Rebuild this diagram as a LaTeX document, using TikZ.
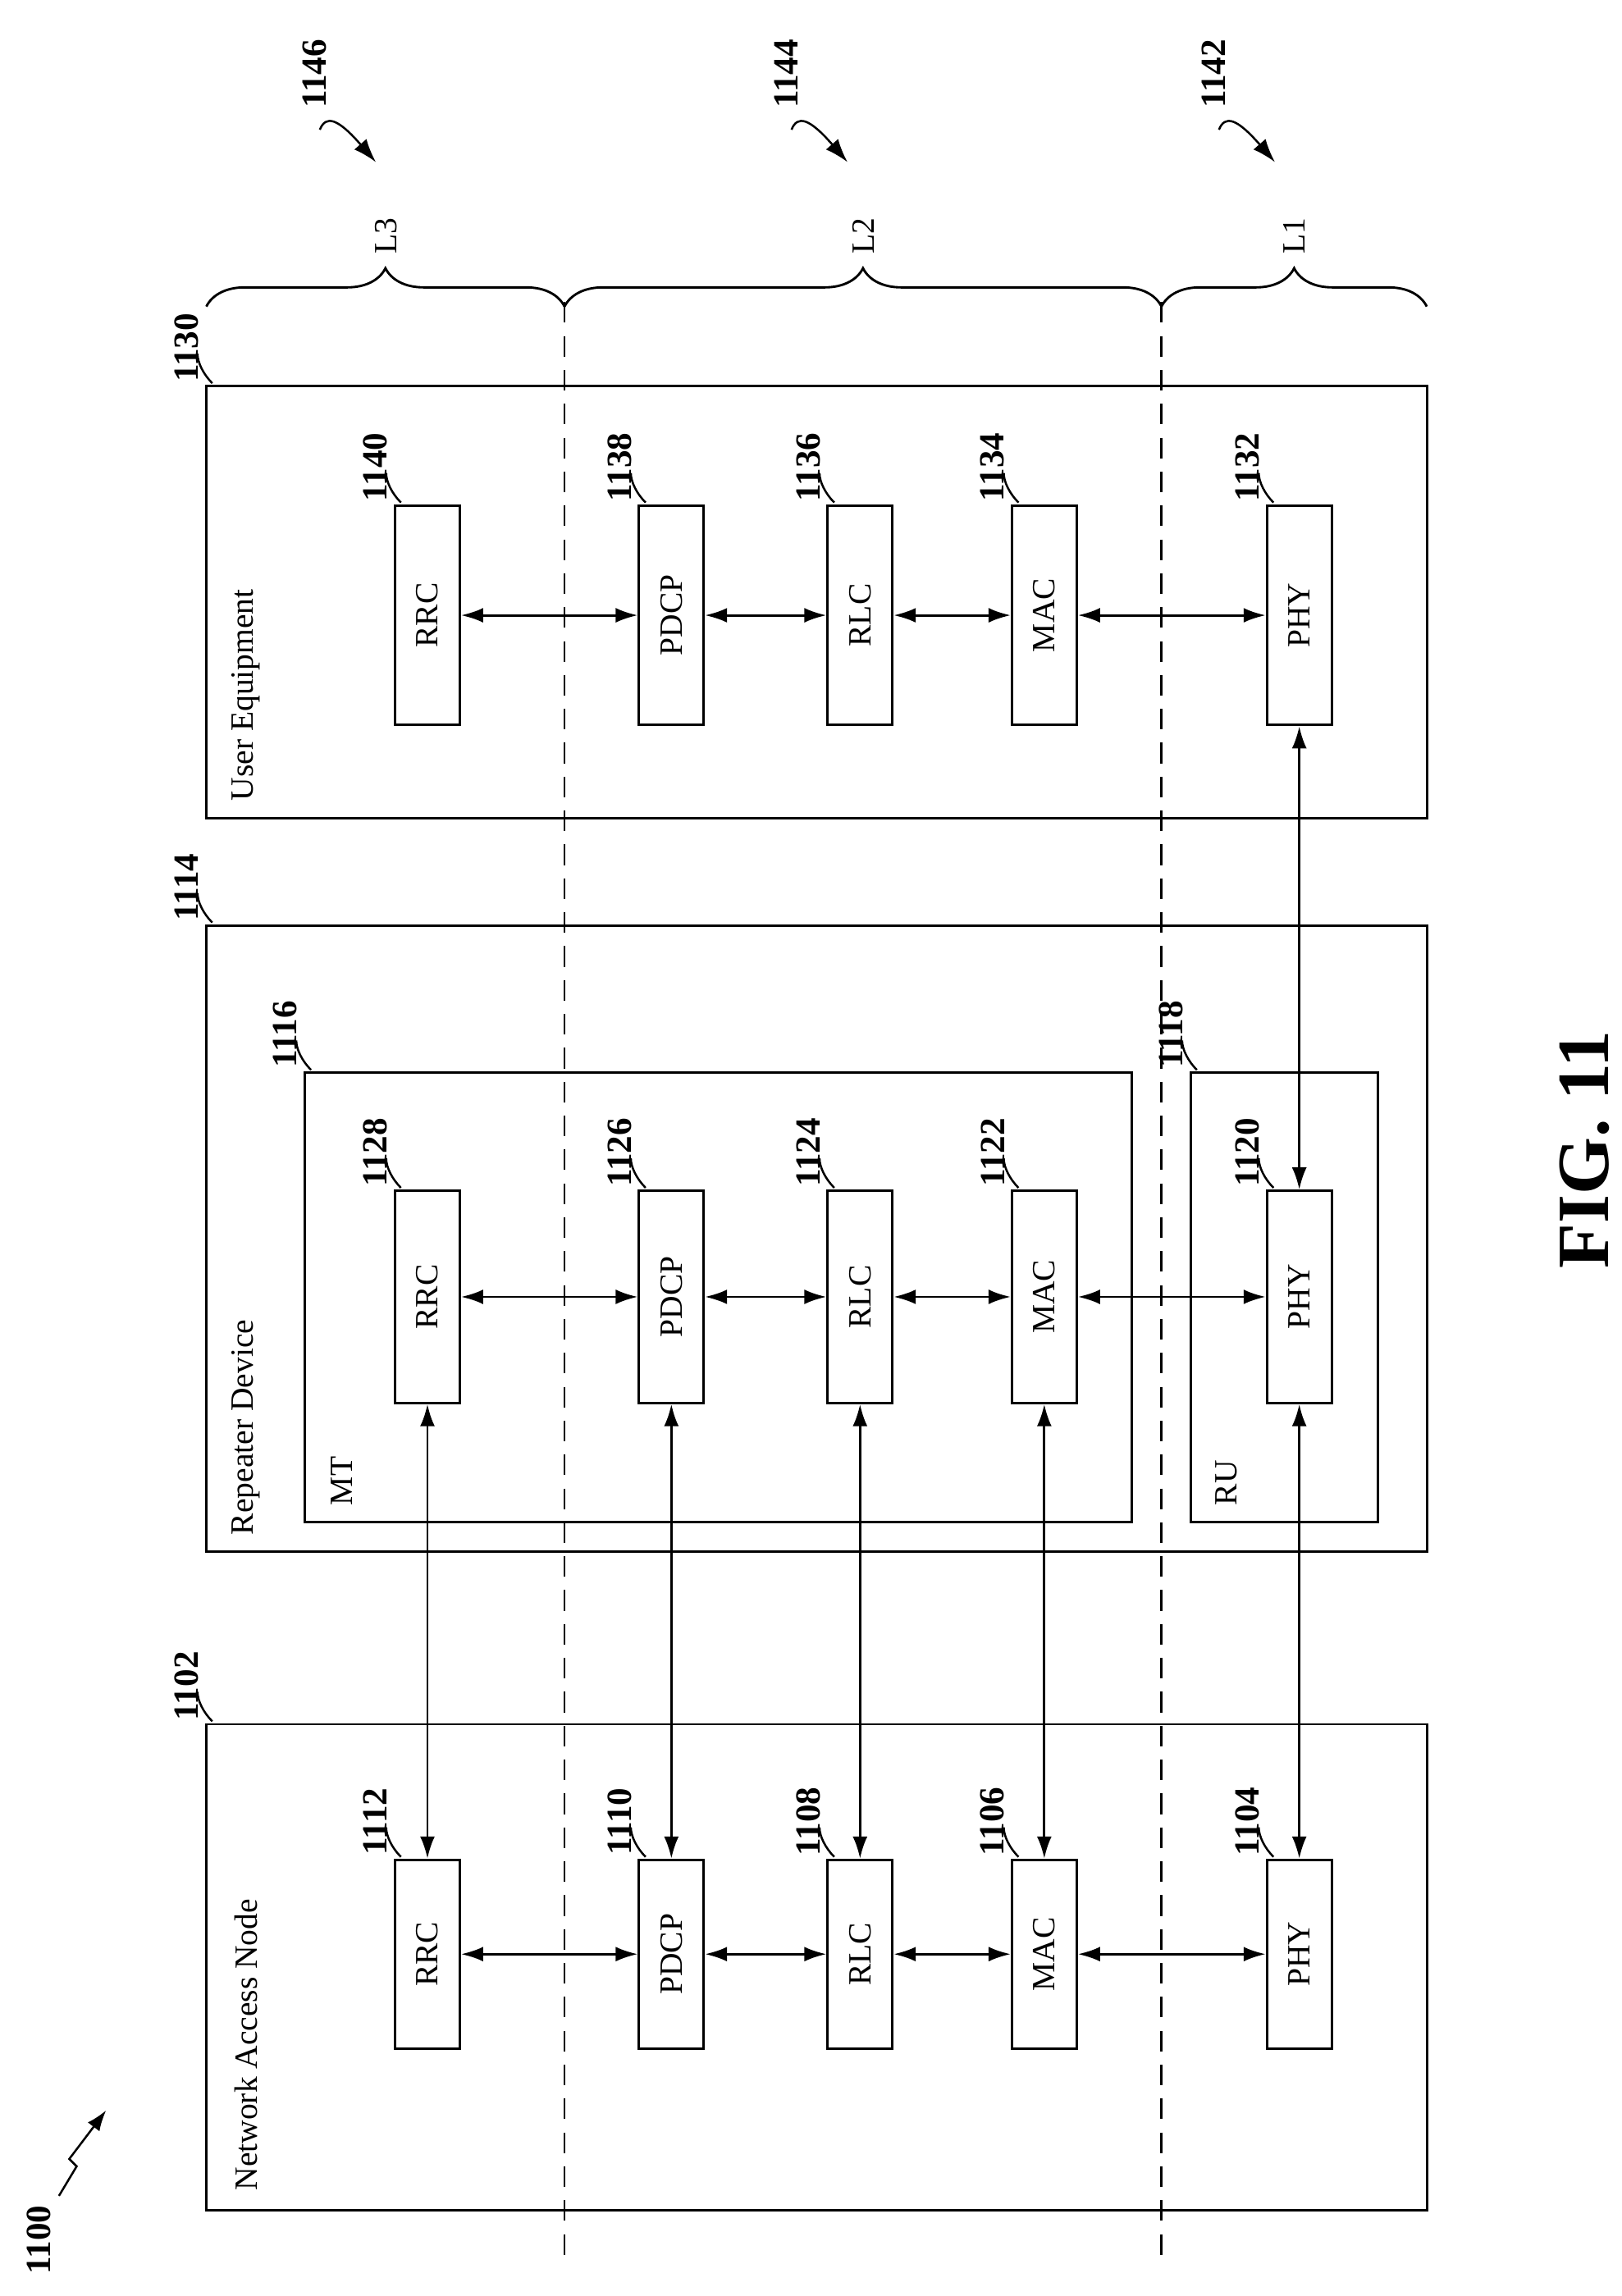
\documentclass[tikz,border=0pt]{standalone}
\usepackage{fontspec}
\setmainfont{Liberation Serif}
\usetikzlibrary{arrows.meta,decorations.pathreplacing}
\begin{document}
\begin{tikzpicture}[x=1pt,y=-1pt,
 box/.style={draw,line width=1.6pt},
 lab/.style={rotate=90,font=\fontsize{22}{24}\selectfont},
 num/.style={rotate=90,font=\bfseries\fontsize{24}{26}\selectfont},
 arr/.style={{Latex[length=15pt,width=10pt]}-{Latex[length=15pt,width=10pt]},line width=1.6pt},
 lead/.style={line width=1.4pt}]
\useasboundingbox (0,0) rectangle (1100,1558);
% outer
\draw[box] (140,1170) rectangle (968,1500);
\draw[box] (140,628) rectangle (968,1053);
\draw[box] (140,262) rectangle (968,555);
\draw[box] (207,728) rectangle (768,1033);
\draw[box] (808,728) rectangle (935,1033);
\node[lab,anchor=west] at (167,1490) {Network Access Node};
\node[lab,anchor=west] at (167,1045) {Repeater Device};
\node[lab,anchor=west] at (167,547) {User Equipment};
\node[lab,anchor=west] at (232,1025) {MT};
\node[lab,anchor=west] at (832,1025) {RU};
% dashed
\draw[line width=1.4pt,dash pattern=on 14pt off 9pt] (383,205)--(383,1530);
\draw[line width=1.4pt,dash pattern=on 14pt off 9pt] (788,205)--(788,1530);
% braces
\draw[line width=1.6pt,decorate,decoration={brace,amplitude=26pt}] (140,208)--(383,208);
\draw[line width=1.6pt,decorate,decoration={brace,amplitude=26pt}] (383,208)--(788,208);
\draw[line width=1.6pt,decorate,decoration={brace,amplitude=26pt}] (788,208)--(968,208);
\node[lab] at (262,160) {L3};
\node[lab] at (586,160) {L2};
\node[lab] at (878,160) {L1};
% layer boxes
\foreach \c/\y/\h in {N/1262/1390,R/808/952,U/343/492}{
 \foreach \n/\a/\b/\t in {rrc/268/312/RRC,pdcp/434/477/PDCP,rlc/562/605/RLC,mac/687/730/MAC,phy/860/903/PHY}{
  \node[box,fill=white,minimum width=44pt,minimum height={\h-\y},inner sep=0pt] (\c\n) at ({(\a+\b)/2},{(\y+\h)/2}) {};
  \node[lab] at (\c\n) {\t};
 }
 \draw[arr] (\c rrc.east)--(\c pdcp.west);
 \draw[arr] (\c pdcp.east)--(\c rlc.west);
 \draw[arr] (\c rlc.east)--(\c mac.west);
 \draw[arr] (\c mac.east)--(\c phy.west);
}
\foreach \n in {rrc,pdcp,rlc,mac,phy}{\draw[arr] (N\n.north)--(R\n.south);}
\draw[arr] (Rphy.north)--(Uphy.south);
\newcommand\refl[3]{%
 \draw[lead] (#1+4,#2-2) .. controls (#1-2,#2-8) and (#1-6,#2-16) .. (#1-6,#2-22);
 \node[num,anchor=south] at (#1-2,#2-26) {#3};}
\refl{268}{1262}{1112}\refl{434}{1262}{1110}\refl{562}{1262}{1108}\refl{687}{1262}{1106}\refl{860}{1262}{1104}
\refl{268}{808}{1128}\refl{434}{808}{1126}\refl{562}{808}{1124}\refl{687}{808}{1122}\refl{860}{808}{1120}
\refl{268}{343}{1140}\refl{434}{343}{1138}\refl{562}{343}{1136}\refl{687}{343}{1134}\refl{860}{343}{1132}
\refl{140}{1170}{1102}\refl{140}{628}{1114}\refl{140}{262}{1130}
\refl{207}{728}{1116}\refl{808}{728}{1118}
% layer refs
\foreach \x/\t in {225/1146,545/1144,835/1142}{
 \node[num,anchor=south] at (\x,50) {\t};
 \draw[lead,-{Latex[length=16pt,width=11pt]}] (\x-8,88) .. controls (\x-4,78) and (\x+4,80) .. (\x+30,110);
}
\node[num,anchor=south] at (38,1520) {1100};
\draw[lead,-{Latex[length=14pt,width=10pt]}] (40,1490)--(52,1470)--(47,1465)--(72,1432);
\node[rotate=90,font=\bfseries\fontsize{50}{54}\selectfont] at (1075,780) {FIG. 11};
\end{tikzpicture}
\end{document}
